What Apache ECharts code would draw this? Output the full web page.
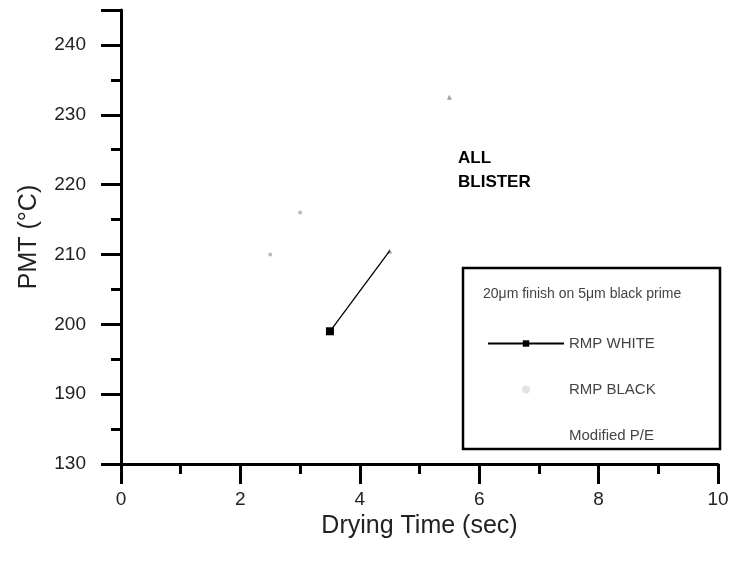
<!DOCTYPE html>
<html>
<head>
<meta charset="utf-8">
<script src="https://cdn.jsdelivr.net/npm/echarts@6/dist/echarts.min.js"></script>
<style>
  html, body { margin: 0; padding: 0; background: #fff; }
  #chart { width: 746px; height: 564px; }
</style>
</head>
<body>
<div id="chart"></div>
<script>
// broken y axis: the bottom tick stands for 130, the rest are real values
const yTicks = [180, 190, 200, 210, 220, 230, 240];
const yTickLabels = ['130', '190', '200', '210', '220', '230', '240'];

const whiteX = [3.5, 4.5];
const whiteY = [199, 210.5];
const blackX = [2.5, 3.0];
const blackY = [210, 216];
const peX = [4.5, 5.5];
const peY = [210.5, 232.5];

const chart = echarts.init(document.getElementById('chart'));
const font = 'Liberation Sans, Arial, sans-serif';

function pairs(xs, ys) {
    return xs.map((x, i) => [x, ys[i]]);
}

const whiteData = pairs(whiteX, whiteY).map((p, i) => {
    // only the first point carries the square marker
    return i === 0 ? {value: p} : {value: p, symbol: 'none'};
});

const option = {
    animation: false,
    backgroundColor: '#fff',
    textStyle: {fontFamily: font},
    grid: {left: 121, right: 28, top: 10, bottom: 100},
    xAxis: {
        type: 'value',
        min: 0,
        max: 10,
        interval: 2,
        name: 'Drying Time (sec)',
        nameLocation: 'middle',
        nameGap: 47,
        nameTextStyle: {fontSize: 25, color: '#222', fontFamily: font},
        axisLine: {lineStyle: {color: '#000', width: 3}},
        axisTick: {inside: false, length: 20, lineStyle: {color: '#000', width: 3}},
        minorTick: {show: true, splitNumber: 2, length: 10, lineStyle: {color: '#000', width: 3}},
        axisLabel: {fontSize: 19, color: '#222', margin: 26, fontFamily: font},
        splitLine: {show: false}
    },
    yAxis: {
        type: 'value',
        min: 180,
        max: 245,
        interval: 10,
        name: 'PMT (°C)',
        nameLocation: 'middle',
        nameGap: 79,
        nameRotate: 90,
        nameTextStyle: {fontSize: 25, color: '#222', fontFamily: font},
        axisLine: {lineStyle: {color: '#000', width: 3}},
        axisTick: {inside: false, length: 20, lineStyle: {color: '#000', width: 3}},
        minorTick: {show: true, splitNumber: 2, length: 10, lineStyle: {color: '#000', width: 3}},
        axisLabel: {
            fontSize: 19,
            color: '#222',
            margin: 35,
            fontFamily: font,
            formatter: function (v) {
                const i = yTicks.indexOf(v);
                return i >= 0 ? yTickLabels[i] : '';
            }
        },
        splitLine: {show: false}
    },
    legend: {
        orient: 'vertical',
        left: 482,
        top: 331,
        itemWidth: 76,
        itemHeight: 8,
        itemGap: 31,
        textStyle: {fontSize: 15, color: '#444', fontFamily: font},
        data: [
            {name: 'RMP WHITE'},
            {name: 'RMP BLACK', icon: 'circle', itemStyle: {color: '#ddd'}},
            {name: 'Modified P/E', icon: 'circle', itemStyle: {color: 'rgba(0,0,0,0)'}}
        ]
    },
    graphic: [
        {
            type: 'rect',
            shape: {x: 463, y: 268, width: 257, height: 181},
            style: {fill: 'none', stroke: '#000', lineWidth: 2.5},
            z: 1
        },
        {
            type: 'text',
            left: 483,
            top: 287,
            style: {
                text: '20μm finish on 5μm black prime',
                fontSize: 14,
                fill: '#444',
                fontFamily: font
            }
        },
        {
            type: 'text',
            left: 458,
            top: 146,
            style: {
                text: 'ALL\nBLISTER',
                fontSize: 17,
                fontWeight: 'bold',
                lineHeight: 24,
                fill: '#000',
                fontFamily: font
            }
        }
    ],
    series: [
        {
            name: 'RMP WHITE',
            type: 'line',
            data: whiteData,
            symbol: 'rect',
            symbolSize: 8,
            itemStyle: {color: '#000'},
            lineStyle: {color: '#000', width: 1.3}
        },
        {
            name: 'RMP BLACK',
            type: 'scatter',
            data: pairs(blackX, blackY),
            symbol: 'circle',
            symbolSize: 4,
            itemStyle: {color: '#aaa'}
        },
        {
            name: 'Modified P/E',
            type: 'scatter',
            data: pairs(peX, peY),
            symbol: 'triangle',
            symbolSize: 5,
            itemStyle: {color: '#888'}
        }
    ]
};

chart.setOption(option);
</script>
</body>
</html>
